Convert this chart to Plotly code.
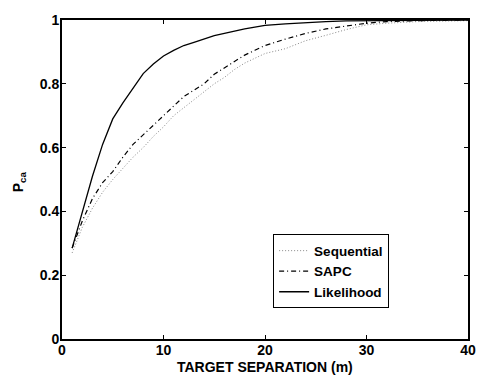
import plotly.graph_objects as go

# Data
x_lik = [1, 2, 3, 4, 5, 6, 7, 8, 9, 10, 11, 12, 13, 14, 15, 16, 17, 18, 19, 20, 22, 24, 26, 28, 30, 35, 40]
y_lik = [0.285, 0.40, 0.51, 0.61, 0.69, 0.74, 0.785, 0.832, 0.862, 0.887, 0.905, 0.92, 0.93, 0.94, 0.951,
         0.958, 0.966, 0.972, 0.978, 0.983, 0.988, 0.992, 0.995, 0.997, 0.998, 0.999, 1.0]

x_sapc = [1, 2, 3, 4, 5, 6, 7, 8, 9, 10, 11, 12, 13, 14, 15, 16, 17, 18, 19, 20, 22, 24, 26, 28, 30, 32, 35, 40]
y_sapc = [0.285, 0.37, 0.44, 0.49, 0.525, 0.57, 0.61, 0.64, 0.67, 0.70, 0.73, 0.76, 0.78, 0.80, 0.83,
          0.85, 0.87, 0.89, 0.905, 0.92, 0.94, 0.958, 0.972, 0.982, 0.99, 0.995, 0.998, 1.0]

x_seq = [1, 2, 3, 4, 5, 6, 7, 8, 9, 10, 11, 12, 13, 14, 15, 16, 17, 18, 19, 20, 22, 24, 26, 28, 30, 32, 35, 40]
y_seq = [0.27, 0.35, 0.41, 0.46, 0.50, 0.535, 0.57, 0.60, 0.635, 0.665, 0.70, 0.725, 0.75, 0.775, 0.80,
         0.82, 0.845, 0.865, 0.88, 0.895, 0.91, 0.935, 0.952, 0.97, 0.985, 0.99, 0.995, 0.998]

x_ticks = [0, 10, 20, 30, 40]
y_ticks = [0, 0.2, 0.4, 0.6, 0.8, 1]
y_tick_labels = ["0", "0.2", "0.4", "0.6", "0.8", "1"]

font_family = "Liberation Sans, Arial, Helvetica, sans-serif"
FS = 14

fig = go.Figure()
fig.add_trace(go.Scatter(x=x_seq, y=y_seq, mode="lines", name="<b>Sequential</b>",
                         line=dict(color="#888888", width=1, dash="1px,2px")))
fig.add_trace(go.Scatter(x=x_sapc, y=y_sapc, mode="lines", name="<b>SAPC</b>",
                         line=dict(color="black", width=1.2, dash="5px,3px,1px,3px")))
fig.add_trace(go.Scatter(x=x_lik, y=y_lik, mode="lines", name="<b>Likelihood</b>",
                         line=dict(color="black", width=1.3)))

axis_common = dict(showline=True, linecolor="black", linewidth=2, mirror="allticks",
                   ticks="inside", ticklen=4, tickwidth=1, tickcolor="black",
                   showgrid=False, zeroline=False,
                   tickfont=dict(family=font_family, size=FS, color="black"))

fig.update_xaxes(range=[0, 40], tickvals=x_ticks, ticktext=[f"<b>{v}</b>" for v in x_ticks],
                 ticklabelstandoff=-3, **axis_common)
fig.update_yaxes(range=[0, 1], tickvals=y_ticks, ticktext=[f"<b>{t}</b>" for t in y_tick_labels],
                 ticklabelstandoff=-2, **axis_common)

fig.update_layout(
    width=488, height=376,
    margin=dict(l=62, r=12, t=13, b=37),
    paper_bgcolor="white", plot_bgcolor="white",
    font=dict(family=font_family, size=FS, color="black"),
    showlegend=True,
    legend=dict(x=0.52, y=0.328, xanchor="left", yanchor="top",
                bgcolor="white", bordercolor="black", borderwidth=1,
                font=dict(family=font_family, size=13.5, color="black"),
                itemwidth=30, tracegroupgap=0),
    annotations=[
        dict(text="<b>TARGET SEPARATION (m)</b>", xref="paper", yref="paper",
             x=(269 - 62) / 414, y=-(368 - 339) / 326, xanchor="center", yanchor="middle",
             showarrow=False, font=dict(family=font_family, size=FS, color="black")),
        dict(text="<b>P<sub>ca</sub></b>", xref="paper", yref="paper",
             x=-(62 - 19) / 414, y=(339 - 178) / 326, xanchor="center", yanchor="middle",
             textangle=-90, showarrow=False, font=dict(family=font_family, size=FS, color="black")),
    ],
)

fig.write_html("out.html", config={"displayModeBar": False},
               post_script="document.body.style.margin='0';document.body.style.padding='0';")
